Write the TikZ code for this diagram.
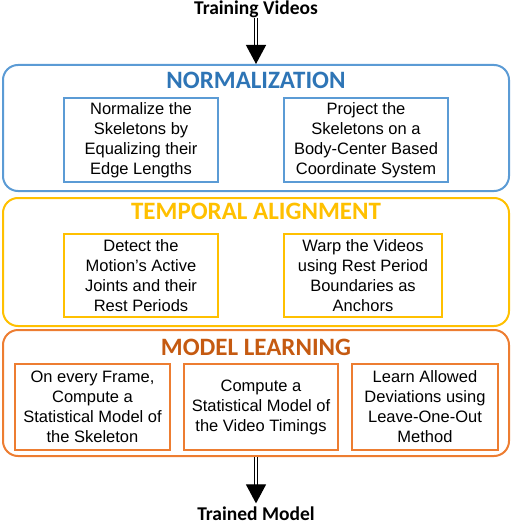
\documentclass[tikz,border=0pt]{standalone}
\usepackage{fontspec}
\setmainfont{Liberation Sans}
\newfontfamily\headfont{Carlito}
\usetikzlibrary{arrows.meta}
\definecolor{nblue}{HTML}{5B9BD5}
\definecolor{nbluet}{HTML}{2E75B6}
\definecolor{tyellow}{HTML}{FFC000}
\definecolor{lorange}{HTML}{ED7D31}
\definecolor{loranget}{HTML}{C55A11}
\begin{document}
\begin{tikzpicture}[x=1pt, y=-1pt, align=center,
	stage/.style = {draw, line width=2pt, rounded corners=15pt, minimum width=506pt},
	task/.style = {draw, line width=2pt, inner sep=1pt, font=\fontsize{16.5}{20}\selectfont},
	title/.style = {font=\headfont\bfseries\fontsize{25}{28}\selectfont, inner sep=0pt},
	io/.style = {font=\headfont\bfseries\fontsize{19.5}{22}\selectfont, inner sep=0pt},
	flow/.style = {double, double distance=2.5pt, line width=1.2pt, -{Triangle[width=20pt, length=19pt]}}]
	\useasboundingbox (0,0) rectangle (512,524);
	\node[io] (tv) at (256,9) {Training Videos};
	\node[stage, draw=nblue, minimum height=126pt] (norm) at (256,128) {};
	\node[title, text=nbluet] (normt) at (256,80) {NORMALIZATION};
	\node[task, draw=nblue, minimum width=154pt, minimum height=84pt] (n1) at (141,140) {Normalize the\\Skeletons by\\Equalizing their\\Edge Lengths};
	\node[task, draw=nblue, minimum width=164pt, minimum height=84pt] (n2) at (366,140) {Project the\\Skeletons on a\\Body-Center Based\\Coordinate System};
	\node[stage, draw=tyellow, minimum height=128pt] (temp) at (256,262) {};
	\node[title, text=tyellow] (tempt) at (256,211) {TEMPORAL ALIGNMENT};
	\node[task, draw=tyellow, minimum width=154pt, minimum height=83pt] (t1) at (141,275.5) {Detect the\\Motion's Active\\Joints and their\\Rest Periods};
	\node[task, draw=tyellow, minimum width=158pt, minimum height=83pt] (t2) at (363,275.5) {Warp the Videos\\using Rest Period\\Boundaries as\\Anchors};
	\node[stage, draw=lorange, minimum height=126pt] (learn) at (256,393) {};
	\node[title, text=loranget] (learnt) at (256,347) {MODEL LEARNING};
	\node[task, draw=lorange, minimum width=155pt, minimum height=86pt] (l1) at (92.5,407) {On every Frame,\\Compute a\\Statistical Model of\\the Skeleton};
	\node[task, draw=lorange, minimum width=154pt, minimum height=86pt] (l2) at (261,407) {Compute a\\Statistical Model of\\the Video Timings};
	\node[task, draw=lorange, minimum width=146pt, minimum height=86pt] (l3) at (425,407) {Learn Allowed\\Deviations using\\Leave-One-Out\\Method};
	\node[io] (tm) at (256,513.5) {Trained Model};
	\draw[flow] (tv) -- (norm);
	\draw[flow, shorten >=3pt] (learn) -- (tm);
\end{tikzpicture}
\end{document}
